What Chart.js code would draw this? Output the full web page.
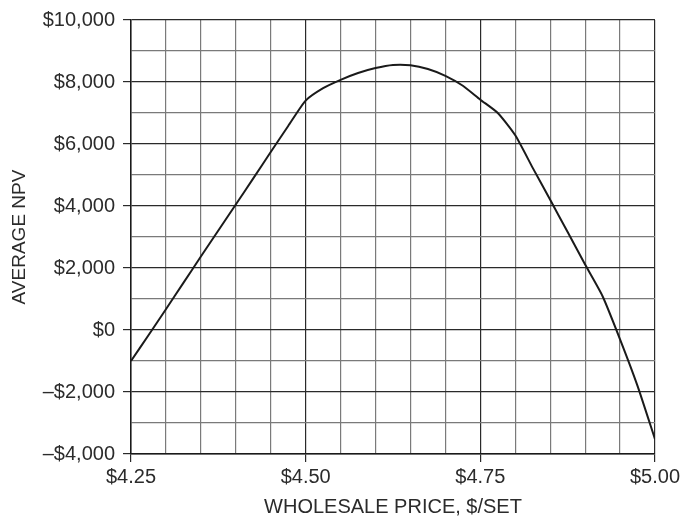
<!DOCTYPE html>
<html>
<head>
<meta charset="utf-8">
<script src="https://cdn.jsdelivr.net/npm/chart.js@4.4.1/dist/chart.umd.min.js"></script>
<style>
  body { margin: 0; background: #fff; }
  #wrap { width: 683px; height: 517px; }
</style>
</head>
<body>
<div id="wrap"><canvas id="npvChart" width="683" height="517"></canvas></div>
<script>
// wholesale price ($/set) and average NPV
var prices = [4.25, 4.275, 4.30, 4.325, 4.35, 4.375, 4.40, 4.425, 4.45, 4.475, 4.50,
              4.525, 4.55, 4.575, 4.60, 4.625, 4.65, 4.675, 4.70, 4.725, 4.75,
              4.775, 4.80, 4.825, 4.85, 4.875, 4.90, 4.925, 4.95, 4.975, 5.00];
var avgNpv = [-1000, -170, 670, 1520, 2370, 3210, 4050, 4890, 5740, 6580, 7400,
              7800, 8070, 8290, 8450, 8550, 8540, 8420, 8200, 7880, 7430,
              7000, 6280, 5230, 4200, 3160, 2110, 1090, -300, -1800, -3520];

// grid positions (every line) and the ones that get a label
var xGrid = [4.25, 4.30, 4.35, 4.40, 4.45, 4.50, 4.55, 4.60, 4.65, 4.70, 4.75, 4.80, 4.85, 4.90, 4.95, 5.00];
var xLabels = [4.25, 4.50, 4.75, 5.00];
var yGrid = [-4000, -3000, -2000, -1000, 0, 1000, 2000, 3000, 4000, 5000, 6000, 7000, 8000, 9000, 10000];
var yLabels = [-4000, -2000, 0, 2000, 4000, 6000, 8000, 10000];

function isLabel(list, v) {
    return list.some(function (l) { return Math.abs(l - v) < 1e-6; });
}

function money(v) {
    var s = '$' + Math.abs(v).toLocaleString('en-US');
    return v < 0 ? '\u2013' + s : s;
}

var textColor = '#2b2b2b';
var fontFamily = '"Liberation Sans", Arial, sans-serif';

document.addEventListener('DOMContentLoaded', function () {
    var ctx = document.getElementById('npvChart').getContext('2d');

    var points = prices.map(function (p, i) { return { x: p, y: avgNpv[i] }; });

    new Chart(ctx, {
        type: 'line',
        data: {
            datasets: [{
                data: points,
                borderColor: '#1a1a1a',
                borderWidth: 2,
                pointRadius: 0,
                tension: 0.2,
                fill: false
            }]
        },
        options: {
            responsive: false,
            animation: false,
            layout: { padding: { top: 19, right: 25.5, bottom: 0, left: 0 } },
            plugins: { legend: { display: false }, tooltip: { enabled: false } },
            scales: {
                x: {
                    type: 'linear',
                    min: 4.25,
                    max: 5.00,
                    afterBuildTicks: function (scale) {
                        scale.ticks = xGrid.map(function (v) { return { value: v }; });
                    },
                    afterFit: function (scale) { scale.height = 63; },
                    border: { color: '#1a1a1a', width: 1.5 },
                    grid: {
                        lineWidth: 1.2,
                        tickLength: 8,
                        color: function (c) { return isLabel(xLabels, c.tick.value) ? '#2a2a2a' : '#7a7a7a'; },
                        tickColor: function (c) { return isLabel(xLabels, c.tick.value) ? '#2a2a2a' : 'rgba(0,0,0,0)'; }
                    },
                    ticks: {
                        autoSkip: false,
                        maxRotation: 0,
                        padding: 3,
                        color: textColor,
                        font: { family: fontFamily, size: 20 },
                        callback: function (v) { return isLabel(xLabels, v) ? '$' + v.toFixed(2) : ''; }
                    },
                    title: {
                        display: true,
                        text: 'WHOLESALE PRICE, $/SET',
                        color: textColor,
                        font: { family: fontFamily, size: 20, lineHeight: 1 },
                        padding: { top: 0, bottom: 0 }
                    }
                },
                y: {
                    type: 'linear',
                    min: -4000,
                    max: 10000,
                    afterBuildTicks: function (scale) {
                        scale.ticks = yGrid.map(function (v) { return { value: v }; });
                    },
                    afterFit: function (scale) { scale.width = 131; },
                    border: { color: '#1a1a1a', width: 1.5 },
                    grid: {
                        lineWidth: 1.2,
                        tickLength: 8,
                        color: function (c) { return isLabel(yLabels, c.tick.value) ? '#2a2a2a' : '#7a7a7a'; },
                        tickColor: function (c) { return isLabel(yLabels, c.tick.value) ? '#2a2a2a' : 'rgba(0,0,0,0)'; }
                    },
                    ticks: {
                        autoSkip: false,
                        padding: 8,
                        color: textColor,
                        font: { family: fontFamily, size: 20 },
                        callback: function (v) { return isLabel(yLabels, v) ? money(v) : ''; }
                    },
                    title: {
                        display: true,
                        text: 'AVERAGE NPV',
                        color: textColor,
                        font: { family: fontFamily, size: 19, lineHeight: 1 },
                        padding: { top: 10, bottom: 0 }
                    }
                }
            }
        }
    });
});
</script>
</body>
</html>
